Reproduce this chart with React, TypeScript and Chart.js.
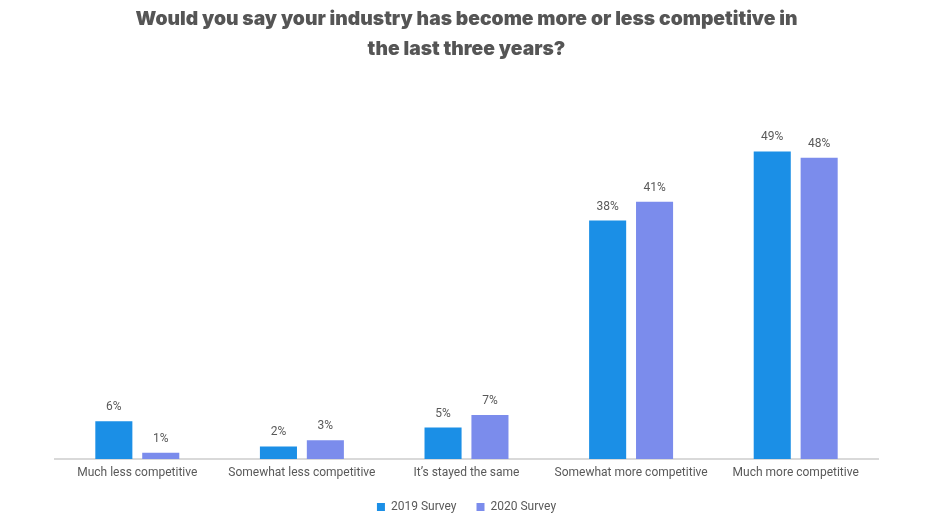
import React, { useEffect, useRef } from "react";
import { Chart, registerables } from "chart.js";

Chart.register(...registerables);

const categories = [
  "Much less competitive",
  "Somewhat less competitive",
  "It\u2019s stayed the same",
  "Somewhat more competitive",
  "Much more competitive",
];
const survey2019 = [6, 2, 5, 38, 49];
const survey2020 = [1, 3, 7, 41, 48];
const seriesNames = ["2019 Survey", "2020 Survey"];
const titleLines = [
  "Would you say your industry has become more or less competitive in",
  "the last three years?",
];

const FONT = "Roboto, 'Noto Sans', sans-serif";

const valueLabels = {
  id: "valueLabels",
  afterDatasetsDraw(chart: any) {
    const ctx = chart.ctx;
    ctx.save();
    ctx.font = "12px " + FONT;
    ctx.fillStyle = "#595959";
    ctx.textAlign = "center";
    ctx.textBaseline = "bottom";
    chart.data.datasets.forEach((ds: any, i: number) => {
      const meta = chart.getDatasetMeta(i);
      meta.data.forEach((el: any, j: number) => {
        ctx.fillText(ds.data[j] + "%", el.x, el.y - 8);
      });
    });
    // category labels under the axis
    const xs = chart.scales.x;
    ctx.textBaseline = "middle";
    chart.data.labels.forEach((lab: string, i: number) => {
      ctx.fillText(lab, xs.getPixelForValue(i), xs.top + 14);
    });
    ctx.restore();
  },
};

export default function App() {
  const ref = useRef<HTMLCanvasElement>(null);
  useEffect(() => {
    document.body.style.margin = "0";
    const chart = new Chart(ref.current!, {
      type: "bar",
      data: {
        labels: categories,
        datasets: [
          {
            label: seriesNames[0],
            data: survey2019,
            backgroundColor: "#1B8FE6",
            categoryPercentage: 0.57,
            barPercentage: 0.79,
          },
          {
            label: seriesNames[1],
            data: survey2020,
            backgroundColor: "#7B8CEC",
            categoryPercentage: 0.57,
            barPercentage: 0.79,
          },
        ],
      },
      options: {
        responsive: false,
        animation: false,
        layout: { padding: { left: 55, right: 52, top: 4, bottom: -1 } },
        plugins: {
          title: {
            display: true,
            text: titleLines,
            color: "#555555",
            font: { family: "Inter, Roboto, sans-serif", size: 19.3, weight: "900", lineHeight: 1.55 },
            padding: { top: 0, bottom: 50 },
          },
          legend: {
            position: "bottom",
            labels: {
              boxWidth: 8,
              boxHeight: 8,
              color: "#595959",
              font: { family: FONT, size: 12 },
              padding: 20,
            },
          },
          tooltip: { enabled: false },
        },
        scales: {
          x: {
            grid: { display: false },
            border: { display: true, color: "#D9D9D9", width: 2 },
            ticks: { display: false },
            afterFit: (s: any) => {
              s.height = 22;
            },
          },
          y: {
            display: false,
            min: 0,
            max: 55,
          },
        },
      },
      plugins: [valueLabels],
    });
    return () => chart.destroy();
  }, []);
  return (
    <div style={{ position: "absolute", left: 0, top: 0, width: 930, height: 522, background: "#fff" }}>
      <canvas ref={ref} width={930} height={522} />
    </div>
  );
}
